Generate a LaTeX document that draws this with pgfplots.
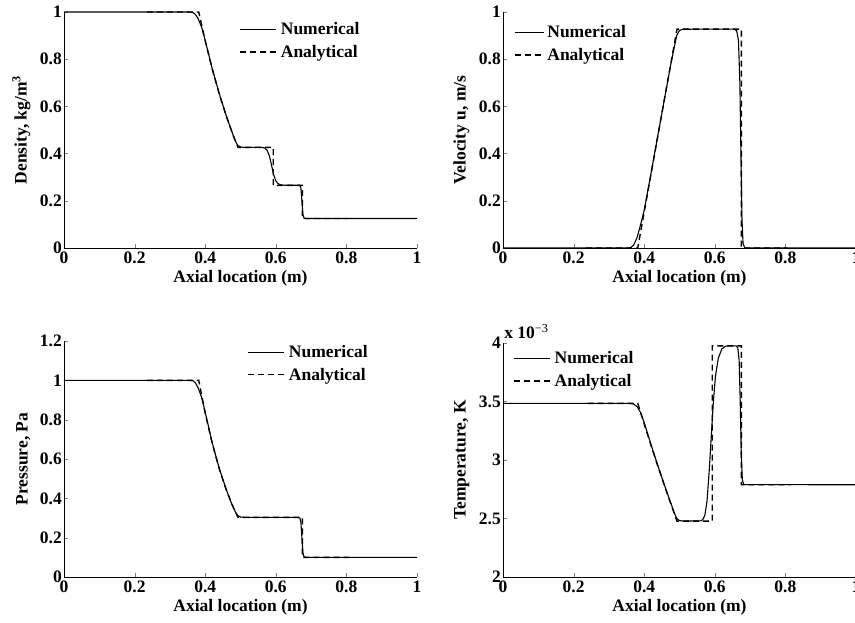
\documentclass[border=0pt]{standalone}
\usepackage{fontspec}
\setmainfont{Liberation Serif}
\usepackage{pgfplots}
\pgfplotsset{compat=1.18}
\newcommand{\fs}{\fontsize{17.5}{20}\selectfont\bfseries}
\pgfplotsset{
  panel/.style={
    scale only axis, width=353pt, height=236pt,
    axis lines*=left, xmin=0, xmax=1, xtick={0,0.2,0.4,0.6,0.8,1},
    tick align=inside, major tick length=4pt,
    /pgf/number format/assume math mode=true,
    tick label style={font=\fs}, label style={font=\fs},
    ylabel style={yshift=4pt},
    xlabel={Axial location (m)},
    legend style={font=\fs, draw=none, fill=none, anchor=west, legend cell align=left, row sep=5pt},
    legend image code/.code={\draw[##1] (0pt,0pt) -- (36pt,0pt); \path (38pt,0pt);},
    clip=false,
    yticklabel style={inner sep=2pt},
    axis line style={line width=0.7pt},
  },
  num/.style={black, line width=1.1pt},
  ana/.style={black, line width=1.4pt, dash pattern=on 6pt off 4pt},
}
\begin{document}
\begin{tikzpicture}
\useasboundingbox (0pt,0pt) rectangle (855pt,623pt);
% Density
\begin{axis}[panel, at={(64pt,375pt)}, anchor=south west,
  ymin=0, ymax=1, ytick={0,0.2,0.4,0.6,0.8,1},
  ylabel={Density, kg/m\textsuperscript{3}},
  legend style={at={(axis description cs:0.488,0.878)}}]
\addplot[num] coordinates {(0,1)(0.355,1)(0.365,0.998)(0.372,0.99)(0.38,0.972)(0.39,0.935)(0.40,0.88)(0.42,0.76)(0.44,0.653)(0.46,0.559)(0.475,0.495)(0.485,0.455)(0.492,0.435)(0.50,0.428)(0.51,0.4265)(0.56,0.4262)(0.568,0.424)(0.575,0.415)(0.582,0.39)(0.588,0.35)(0.594,0.31)(0.60,0.285)(0.607,0.272)(0.615,0.267)(0.625,0.266)(0.668,0.266)(0.671,0.255)(0.674,0.2)(0.677,0.14)(0.68,0.127)(0.685,0.125)(1,0.125)};
\addplot[ana] coordinates {(0.235,1)(0.3817,1)(0.40,0.8775)(0.42,0.7577)(0.44,0.6514)(0.46,0.5574)(0.48,0.4746)(0.493,0.4263)(0.5928,0.4263)(0.5928,0.2656)(0.6752,0.2656)(0.6752,0.125)(0.805,0.125)};
\legend{Numerical,Analytical}
\end{axis}
% Velocity
\begin{axis}[panel, at={(503pt,375pt)}, anchor=south west,
  ymin=0, ymax=1, ytick={0,0.2,0.4,0.6,0.8,1},
  ylabel={Velocity u, m/s},
  legend image code/.code={\draw[#1] (0pt,0pt) -- (29pt,0pt); \path (30pt,0pt);},
  legend style={at={(axis description cs:0.022,0.866)}}]
\addplot[num] coordinates {(0,0)(0.355,0)(0.362,0.002)(0.37,0.012)(0.38,0.045)(0.39,0.1)(0.40,0.16)(0.42,0.322)(0.44,0.488)(0.46,0.653)(0.475,0.775)(0.485,0.85)(0.492,0.9)(0.50,0.922)(0.51,0.927)(0.655,0.9275)(0.662,0.92)(0.667,0.88)(0.671,0.7)(0.674,0.4)(0.677,0.12)(0.68,0.02)(0.685,0)(1,0)};
\addplot[ana] coordinates {(0.235,0)(0.3817,0)(0.40,0.1527)(0.42,0.3193)(0.44,0.486)(0.46,0.6527)(0.48,0.8193)(0.493,0.9275)(0.6752,0.9275)(0.6752,0)(0.805,0)};
\legend{Numerical,Analytical}
\end{axis}
% Pressure
\begin{axis}[panel, at={(64pt,46pt)}, anchor=south west,
  ymin=0, ymax=1.2, ytick={0,0.2,0.4,0.6,0.8,1,1.2},
  ylabel={Pressure, Pa},
  legend style={at={(axis description cs:0.511,0.905)}}]
\addplot[num] coordinates {(0,1)(0.355,1)(0.365,0.998)(0.372,0.988)(0.38,0.962)(0.39,0.913)(0.40,0.838)(0.42,0.682)(0.44,0.551)(0.46,0.443)(0.475,0.372)(0.485,0.333)(0.492,0.313)(0.50,0.305)(0.51,0.3032)(0.66,0.303)(0.668,0.3)(0.671,0.28)(0.674,0.2)(0.677,0.12)(0.68,0.103)(0.685,0.1)(1,0.1)};
\addplot[ana] coordinates {(0.235,1)(0.3817,1)(0.40,0.8328)(0.42,0.6781)(0.44,0.5488)(0.46,0.4412)(0.48,0.3522)(0.493,0.3031)(0.6752,0.3031)(0.6752,0.1)(0.815,0.1)};
\legend{Numerical,Analytical}
\end{axis}
% Temperature (x 10^-3)
\begin{axis}[panel, at={(503pt,46pt)}, anchor=south west, height=234pt,
  ymin=2, ymax=4, ytick={2,2.5,3,3.5,4},
  ylabel={Temperature, K},
  legend style={at={(axis description cs:0.02,0.886)}}]
\addplot[num] coordinates {(0,3.484)(0.36,3.484)(0.37,3.478)(0.38,3.455)(0.39,3.405)(0.40,3.32)(0.42,3.125)(0.44,2.94)(0.46,2.762)(0.475,2.635)(0.485,2.55)(0.492,2.5)(0.50,2.482)(0.51,2.478)(0.56,2.48)(0.566,2.49)(0.572,2.53)(0.578,2.65)(0.584,2.9)(0.59,3.2)(0.596,3.5)(0.602,3.72)(0.61,3.87)(0.62,3.95)(0.63,3.972)(0.64,3.976)(0.66,3.976)(0.665,3.96)(0.669,3.85)(0.672,3.5)(0.675,3.05)(0.678,2.83)(0.682,2.79)(1,2.788)};
\addplot[ana] coordinates {(0.24,3.484)(0.3817,3.484)(0.40,3.307)(0.42,3.118)(0.44,2.935)(0.46,2.758)(0.48,2.586)(0.493,2.477)(0.5928,2.477)(0.5928,3.976)(0.6752,3.976)(0.6752,2.788)(0.815,2.788)};
\legend{Numerical,Analytical}
\node[anchor=base west, inner sep=0pt, font=\fs] at (rel axis cs:0.003,1) [yshift=4pt] {x 10\textsuperscript{\mdseries −3}};
\end{axis}
\end{tikzpicture}
\end{document}
